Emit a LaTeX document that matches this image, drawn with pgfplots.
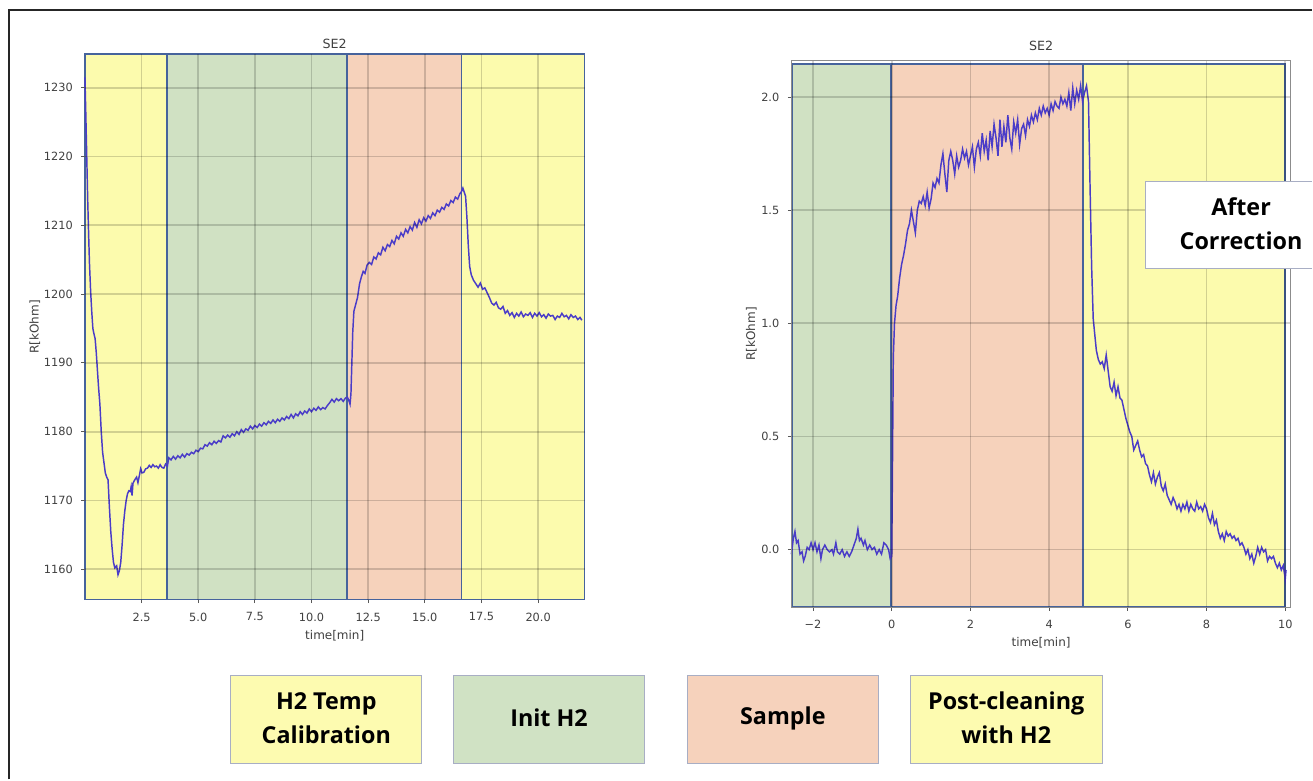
\documentclass[border=0pt]{standalone}
\usepackage{pgfplots}
\pgfplotsset{compat=1.18}
\usepackage{fontspec}
\setmainfont{DejaVu Sans}
\newfontfamily\boxfont{Open Sans}

\definecolor{sy}{HTML}{FCFBAD}
\definecolor{sg}{HTML}{D0E1C3}
\definecolor{ss}{HTML}{F6D2BB}
\definecolor{ly}{HTML}{FDFBB0}
\definecolor{lg}{HTML}{D0E2C4}
\definecolor{ls}{HTML}{F6D2BC}
\definecolor{se}{HTML}{46639C}
\definecolor{cv}{HTML}{4A3CC8}
\definecolor{bb}{HTML}{A8AEC4}

\newcommand{\spanF}[5]{\addplot[fill=#5, draw=none] coordinates {(#1,#3) (#2,#3) (#2,#4) (#1,#4) (#1,#3)};}
\newcommand{\spanE}[4]{\addplot[draw=se, line width=1.4pt, line join=miter] coordinates {(#1,#3) (#2,#3) (#2,#4) (#1,#4) (#1,#3)};}

\pgfplotsset{
  myax/.style={
    scale only axis, axis on top, clip=false, tick pos=left,
    grid=major, grid style={black, opacity=0.17, line width=1.3pt},
    tick align=outside, major tick length=2.6pt,
    tick style={black!65, line width=0.6pt},
    tick label style={font=\fontsize{8.5}{10}\selectfont, text=black!75},
    /pgf/number format/assume math mode=true,
    label style={font=\fontsize{9}{10}\selectfont, text=black!75},
    title style={font=\fontsize{9.5}{11}\selectfont, text=black!75, inner sep=0pt},
    xticklabel style={inner sep=7pt},
    yticklabel style={inner sep=6.3pt},
    xlabel style={anchor=center},
    ylabel style={anchor=center},
  }
}

\begin{document}
\begin{tikzpicture}
\fill[white] (0,0) rectangle (984.75pt,585pt);

% ---------------- left axis ----------------
\begin{axis}[myax,
  at={(63.75pt,135pt)}, anchor=south west, width=375pt, height=409.5pt,
  axis line style={draw=none},
  xmin=0, xmax=22.05, ymin=1155.6, ymax=1234.9,
  xtick={2.5,5,7.5,10,12.5,15,17.5,20},
  xticklabels={2.5,5.0,7.5,10.0,12.5,15.0,17.5,20.0},
  ytick={1160,1170,1180,1190,1200,1210,1220,1230},
  yticklabels={1160,1170,1180,1190,1200,1210,1220,1230},
  title={SE2}, title style={yshift=-2.6pt},
  xlabel={time[min]}, xlabel style={at={(0.5,-0.0655)}},
  ylabel={R[kOhm]}, ylabel style={at={(-0.1,0.5)}},
]
\spanF{0}{3.62}{1155.6}{1234.9}{sy}
\spanF{3.62}{11.58}{1155.6}{1234.9}{sg}
\spanF{11.58}{16.62}{1155.6}{1234.9}{ss}
\spanF{16.62}{22.05}{1155.6}{1234.9}{sy}
\spanE{0}{3.62}{1155.6}{1234.9}
\spanE{3.62}{11.58}{1155.6}{1234.9}
\spanE{11.58}{16.62}{1155.6}{1234.9}
\spanE{16.62}{22.05}{1155.6}{1234.9}
\addplot[cv, line width=1.1pt] coordinates {
(0.00,1231.5) (0.04,1226) (0.08,1220) (0.12,1214) (0.16,1209) (0.20,1204.5) (0.25,1200.5) (0.30,1197.5) (0.35,1195) (0.40,1194.2)
(0.45,1193.5) (0.50,1191.5) (0.55,1189) (0.60,1186.5) (0.66,1184) (0.72,1180) (0.78,1177) (0.84,1175.5) (0.90,1174) (0.96,1173.4)
(1.02,1173) (1.08,1169) (1.14,1165.5) (1.20,1163) (1.26,1161) (1.32,1160.2) (1.40,1160.5) (1.46,1159.2) (1.52,1159.8) (1.58,1161)
(1.64,1163.5) (1.70,1166.5) (1.76,1168.5) (1.82,1170) (1.88,1171) (1.94,1171.4) (2.00,1171.3) (2.04,1172.0) (2.08,1170.7) (2.12,1172.5)
(2.20,1173.0) (2.28,1173.4) (2.34,1172.6) (2.40,1173.6) (2.46,1174.6) (2.52,1174.0) (2.60,1174.1) (2.68,1174.6) (2.76,1174.7) (2.84,1175.1)
(2.92,1174.8) (3.00,1175.2) (3.08,1174.9) (3.16,1175.0) (3.24,1174.7) (3.32,1175.2) (3.40,1174.8) (3.48,1174.7) (3.56,1175.3) (3.64,1175.0)
(3.70,1176.2) (3.80,1175.9) (3.90,1176.4) (4.00,1176.0) (4.10,1176.5) (4.20,1176.2) (4.30,1176.7) (4.40,1176.3) (4.50,1176.8) (4.60,1176.6)
(4.70,1177.0) (4.80,1176.8) (4.90,1177.3) (5.00,1177.1) (5.10,1177.6) (5.20,1177.5) (5.30,1178.1) (5.40,1177.9) (5.50,1178.4) (5.60,1178.1)
(5.70,1178.6) (5.80,1178.3) (5.90,1178.7) (6.00,1178.5) (6.10,1179.4) (6.20,1179.1) (6.30,1179.5) (6.40,1179.2) (6.50,1179.7) (6.60,1179.4)
(6.70,1180.0) (6.80,1179.6) (6.90,1180.3) (7.00,1179.9) (7.10,1180.4) (7.20,1180.2) (7.30,1180.8) (7.40,1180.4) (7.50,1180.9) (7.60,1180.6)
(7.70,1181.1) (7.80,1180.8) (7.90,1181.3) (8.00,1181.0) (8.10,1181.5) (8.20,1181.2) (8.30,1181.7) (8.40,1181.3) (8.50,1181.8) (8.60,1181.5)
(8.70,1182.0) (8.80,1181.7) (8.90,1182.2) (9.00,1181.9) (9.10,1182.5) (9.20,1182.0) (9.30,1182.6) (9.40,1182.3) (9.50,1182.9) (9.60,1182.5)
(9.70,1183.0) (9.80,1182.7) (9.90,1183.3) (10.00,1182.9) (10.10,1183.4) (10.20,1183.1) (10.30,1183.6) (10.40,1183.2) (10.50,1183.5) (10.60,1183.3)
(10.70,1183.8) (10.80,1184.2) (10.90,1184.7) (11.00,1184.3) (11.10,1184.8) (11.20,1184.5) (11.30,1184.8) (11.40,1184.4) (11.50,1184.9) (11.58,1185.0)
(11.64,1184.6) (11.70,1184.0) (11.74,1185.5) (11.78,1190) (11.82,1194.5) (11.87,1197.5) (11.95,1198.5) (12.03,1199.5) (12.12,1201.5) (12.20,1202.5)
(12.28,1203.3) (12.36,1203.0) (12.45,1204.2) (12.55,1204.6) (12.65,1204.3) (12.75,1205.4) (12.85,1205.1) (12.95,1206.0) (13.05,1205.7) (13.15,1206.8)
(13.25,1206.3) (13.35,1207.2) (13.45,1206.9) (13.55,1207.8) (13.65,1207.3) (13.75,1208.4) (13.85,1208.0) (13.95,1208.9) (14.05,1208.4) (14.15,1209.4)
(14.25,1208.9) (14.35,1209.8) (14.45,1209.3) (14.55,1210.4) (14.65,1209.7) (14.75,1210.8) (14.85,1210.2) (14.95,1211.1) (15.05,1210.6) (15.15,1211.4)
(15.25,1211.0) (15.35,1211.8) (15.45,1211.4) (15.55,1212.2) (15.65,1211.9) (15.75,1212.6) (15.85,1212.3) (15.95,1213.1) (16.05,1212.8) (16.15,1213.6)
(16.25,1213.3) (16.35,1214.1) (16.45,1213.8) (16.55,1214.6) (16.62,1214.9) (16.68,1215.4) (16.74,1214.8) (16.80,1214.2) (16.86,1211) (16.92,1207)
(16.98,1204) (17.05,1202.8) (17.15,1202.0) (17.25,1201.5) (17.35,1201.0) (17.45,1201.6) (17.55,1200.7) (17.65,1200.9) (17.75,1200.2) (17.85,1199.5)
(17.95,1198.7) (18.05,1198.4) (18.15,1198.8) (18.25,1198.0) (18.35,1197.8) (18.45,1198.2) (18.55,1197.2) (18.65,1197.6) (18.75,1196.9) (18.85,1197.3)
(18.95,1196.6) (19.05,1197.2) (19.15,1196.8) (19.25,1197.4) (19.35,1196.7) (19.45,1197.1) (19.55,1196.9) (19.65,1197.3) (19.75,1196.6) (19.85,1197.2)
(19.95,1196.8) (20.05,1197.3) (20.15,1196.7) (20.25,1197.0) (20.35,1196.5) (20.45,1197.1) (20.55,1196.8) (20.65,1196.9) (20.75,1196.3) (20.85,1196.8)
(20.95,1196.6) (21.05,1197.2) (21.15,1196.7) (21.25,1196.9) (21.35,1196.4) (21.45,1197.0) (21.55,1196.6) (21.65,1196.8) (21.75,1196.3) (21.85,1196.6)
(21.93,1196.2)
};
\end{axis}

% ---------------- right axis ----------------
\begin{axis}[myax,
  at={(594pt,129pt)}, anchor=south west, width=374.8pt, height=411pt,
  axis line style={black!45, line width=0.6pt},
  xmin=-2.55, xmax=10.14, ymin=-0.256, ymax=2.164,
  xtick={-2,0,2,4,6,8,10},
  xticklabels={−2,0,2,4,6,8,10},
  ytick={0,0.5,1,1.5,2},
  yticklabels={0.0,0.5,1.0,1.5,2.0},
  title={SE2}, title style={yshift=0.4pt},
  xlabel={time[min]}, xlabel style={at={(0.5,-0.0635)}},
  ylabel={R[kOhm]}, ylabel style={at={(-0.08,0.5)}},
]
\spanF{-2.55}{-0.03}{-0.252}{2.147}{sg}
\spanF{-0.03}{4.85}{-0.252}{2.147}{ss}
\spanF{4.85}{10.0}{-0.252}{2.147}{sy}
\spanE{-2.53}{-0.03}{-0.252}{2.147}
\spanE{-0.03}{4.85}{-0.252}{2.147}
\spanE{4.85}{10.0}{-0.252}{2.147}
\addplot[cv, line width=1.1pt] coordinates {
(-2.55,-0.02) (-2.50,0.05) (-2.46,0.08) (-2.42,0.03) (-2.38,0.04) (-2.33,-0.02) (-2.28,-0.01) (-2.24,-0.05) (-2.20,-0.03) (-2.15,0.01)
(-2.10,0.00) (-2.05,0.03) (-2.00,0.00) (-1.95,0.03) (-1.90,-0.01) (-1.85,0.02) (-1.80,-0.04) (-1.76,0.00) (-1.70,0.02) (-1.64,0.00)
(-1.58,-0.01) (-1.52,0.00) (-1.48,-0.02) (-1.42,0.03) (-1.38,-0.01) (-1.32,-0.02) (-1.26,0.00) (-1.20,-0.03) (-1.14,-0.01) (-1.08,-0.03)
(-1.02,-0.01) (-0.96,0.02) (-0.90,0.05) (-0.86,0.09) (-0.82,0.04) (-0.78,0.05) (-0.72,0.02) (-0.68,0.04) (-0.62,0.00) (-0.56,0.02)
(-0.50,0.00) (-0.44,0.01) (-0.38,-0.02) (-0.32,0.00) (-0.26,-0.02) (-0.20,0.03) (-0.14,0.02) (-0.08,0.00) (-0.04,-0.04) (0.00,-0.03)
(0.02,0.40) (0.04,0.85) (0.07,1.00) (0.11,1.08) (0.15,1.12) (0.20,1.20) (0.25,1.26) (0.30,1.30) (0.35,1.35) (0.40,1.41)
(0.45,1.44) (0.50,1.50) (0.55,1.45) (0.60,1.40) (0.65,1.50) (0.70,1.54) (0.75,1.53) (0.80,1.56) (0.85,1.52) (0.90,1.58)
(0.95,1.51) (1.00,1.55) (1.05,1.62) (1.10,1.60) (1.15,1.64) (1.20,1.62) (1.25,1.70) (1.30,1.75) (1.35,1.66) (1.40,1.58)
(1.45,1.72) (1.50,1.76) (1.55,1.72) (1.60,1.66) (1.65,1.74) (1.70,1.69) (1.75,1.72) (1.80,1.77) (1.85,1.73) (1.90,1.76)
(1.95,1.70) (2.00,1.74) (2.05,1.78) (2.10,1.69) (2.15,1.77) (2.20,1.80) (2.25,1.74) (2.30,1.84) (2.35,1.76) (2.40,1.81)
(2.45,1.72) (2.50,1.85) (2.55,1.78) (2.60,1.88) (2.65,1.82) (2.70,1.74) (2.75,1.90) (2.80,1.78) (2.85,1.87) (2.90,1.80)
(2.95,1.92) (3.00,1.82) (3.05,1.77) (3.10,1.89) (3.15,1.84) (3.20,1.90) (3.25,1.79) (3.30,1.86) (3.35,1.88) (3.40,1.83)
(3.45,1.90) (3.50,1.87) (3.55,1.92) (3.60,1.89) (3.65,1.93) (3.70,1.90) (3.75,1.95) (3.80,1.92) (3.85,1.96) (3.90,1.93)
(3.95,1.95) (4.00,1.92) (4.05,1.97) (4.10,1.94) (4.15,1.98) (4.20,1.96) (4.25,1.95) (4.30,2.00) (4.35,1.97) (4.40,1.99)
(4.45,1.96) (4.50,2.02) (4.55,1.94) (4.60,2.04) (4.65,1.97) (4.70,2.03) (4.75,1.99) (4.80,2.05) (4.85,1.98) (4.90,2.02)
(4.95,2.05) (5.00,1.98) (5.04,1.60) (5.08,1.25) (5.12,1.02) (5.16,0.95) (5.20,0.88) (5.25,0.84) (5.30,0.82) (5.35,0.83)
(5.40,0.80) (5.45,0.86) (5.50,0.79) (5.55,0.72) (5.60,0.70) (5.65,0.74) (5.70,0.68) (5.75,0.72) (5.80,0.67) (5.85,0.66)
(5.90,0.62) (5.95,0.58) (6.00,0.55) (6.05,0.52) (6.10,0.50) (6.15,0.44) (6.20,0.46) (6.25,0.48) (6.30,0.44) (6.35,0.41)
(6.40,0.42) (6.45,0.38) (6.50,0.37) (6.55,0.33) (6.60,0.30) (6.65,0.34) (6.70,0.29) (6.75,0.32) (6.80,0.34) (6.85,0.28)
(6.90,0.26) (6.95,0.29) (7.00,0.24) (7.05,0.22) (7.10,0.20) (7.15,0.23) (7.20,0.21) (7.25,0.18) (7.30,0.20) (7.35,0.17)
(7.40,0.20) (7.45,0.18) (7.50,0.21) (7.55,0.17) (7.60,0.20) (7.65,0.18) (7.70,0.17) (7.75,0.21) (7.80,0.18) (7.85,0.19)
(7.90,0.17) (7.95,0.20) (8.00,0.18) (8.05,0.14) (8.10,0.12) (8.15,0.16) (8.20,0.11) (8.25,0.13) (8.30,0.08) (8.35,0.05)
(8.40,0.07) (8.45,0.04) (8.50,0.08) (8.55,0.06) (8.60,0.07) (8.65,0.05) (8.70,0.06) (8.75,0.04) (8.80,0.05) (8.85,0.02)
(8.90,0.03) (8.95,0.01) (9.00,-0.02) (9.05,0.00) (9.10,-0.04) (9.15,-0.02) (9.20,-0.06) (9.25,-0.03) (9.30,0.01) (9.35,-0.02)
(9.40,0.01) (9.45,-0.01) (9.50,0.00) (9.55,-0.05) (9.60,-0.03) (9.65,-0.04) (9.70,-0.03) (9.75,-0.06) (9.80,-0.08) (9.85,-0.06)
(9.90,-0.09) (9.95,-0.07) (10.00,-0.13) (10.02,-0.09)
};
\end{axis}

% ---------------- annotations ----------------
\draw[black!85, line width=1.5pt] (6.75pt,0) -- (6.75pt,577.5pt) -- (984.75pt,577.5pt);
\fill[white] (859.5pt,383.25pt) rectangle (984.75pt,448.5pt);
\draw[bb, line width=0.6pt] (984.75pt,383.25pt) -- (859.5pt,383.25pt) -- (859.5pt,448.5pt) -- (984.75pt,448.5pt);
\node[font=\boxfont\bfseries\fontsize{17.5}{25.5}\selectfont, align=center] at (931.5pt,417pt) {After\\Correction};

\begin{scope}[every node/.style={font=\boxfont\bfseries\fontsize{17.5}{25.5}\selectfont, align=center}]
\draw[bb, line width=0.6pt, fill=ly] (173.25pt,12pt) rectangle (316.5pt,78pt);
\node at (244.9pt,46pt) {H2 Temp\\Calibration};
\draw[bb, line width=0.6pt, fill=lg] (340.5pt,12pt) rectangle (483.75pt,78pt);
\node at (412.1pt,46pt) {Init H2};
\draw[bb, line width=0.6pt, fill=ls] (516pt,12pt) rectangle (659.25pt,78pt);
\node at (587.6pt,46pt) {Sample};
\draw[bb, line width=0.6pt, fill=ly] (683.25pt,12pt) rectangle (827.25pt,78pt);
\node at (755.25pt,46pt) {Post-cleaning\\with H2};
\end{scope}
\end{tikzpicture}
\end{document}
